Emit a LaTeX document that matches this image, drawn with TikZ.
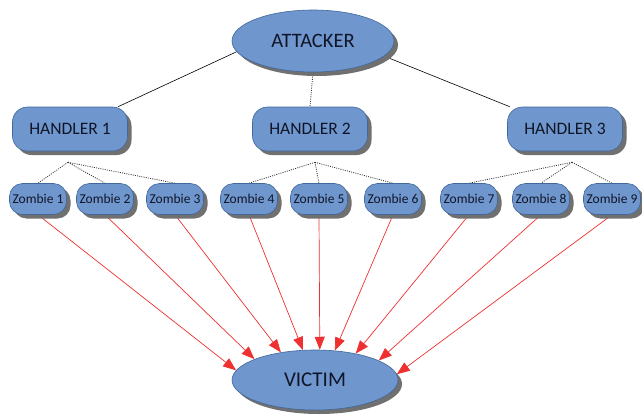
\documentclass[tikz,border=0pt]{standalone}
\usepackage{fontspec}
\setmainfont{Carlito}
\usetikzlibrary{shapes.geometric,shadows,arrows.meta,backgrounds,calc}
\definecolor{boxfill}{HTML}{6F96CD}
\definecolor{boxline}{HTML}{41689A}
\definecolor{shadowgray}{HTML}{707070}
\definecolor{txt}{HTML}{101628}
\definecolor{arrowred}{HTML}{EE3030}
\begin{document}
\begin{tikzpicture}[x=1pt,y=-1pt,
 base/.style={draw=boxline, line width=0.6pt, fill=boxfill, text=txt, inner sep=0pt,
   drop shadow={shadow xshift=4pt,shadow yshift=-4pt,fill=shadowgray,opacity=1}},
 bigoval/.style={base, ellipse, minimum width=162pt, minimum height=62pt, font=\fontsize{20.5}{24}\selectfont},
 handlerbox/.style={base, rectangle, rounded corners=15pt, minimum width=115pt, minimum height=44pt, font=\fontsize{17.5}{20}\selectfont},
 zombiebox/.style={base, rectangle, rounded corners=13pt, minimum width=57pt, minimum height=31pt, font=\fontsize{13.5}{16}\selectfont},
 solidlink/.style={draw=black, line width=0.6pt},
 dotlink/.style={draw=black!80, line width=0.8pt, dash pattern=on 1pt off 1.2pt},
 attack/.style={draw=arrowred, line width=0.7pt, -{Triangle[length=13pt,width=10pt]}}]
\useasboundingbox (0,0) rectangle (642,415);

\node[bigoval] (att) at (313,41) {ATTACKER};
\node[handlerbox] (h1) at (70,129) {HANDLER 1};
\node[handlerbox] (h2) at (310,129) {HANDLER 2};
\node[handlerbox] (h3) at (565,129) {HANDLER 3};

\node[zombiebox] (z1) at (38,199) {Zombie 1};
\node[zombiebox] (z2) at (105,199) {Zombie 2};
\node[zombiebox] (z3) at (175,199) {Zombie 3};
\node[zombiebox] (z4) at (249,199) {Zombie 4};
\node[zombiebox] (z5) at (319,199) {Zombie 5};
\node[zombiebox] (z6) at (393,199) {Zombie 6};
\node[zombiebox] (z7) at (469,199) {Zombie 7};
\node[zombiebox] (z8) at (541,199) {Zombie 8};
\node[zombiebox] (z9) at (612,199) {Zombie 9};

\node[bigoval, minimum width=166pt, minimum height=60pt, font=\fontsize{21}{24}\selectfont] (vic) at (315,380) {VICTIM};

\coordinate (hub1) at ($(h1.south)+(-2,11)$);
\coordinate (hub2) at ($(h2.south)+(5,11)$);
\coordinate (hub3) at ($(h3.south)+(7,11)$);

\begin{scope}[on background layer]
\draw[solidlink] (att.188) -- (h1);
\draw[solidlink] (att.348) -- (h3);
\draw[dotlink] (att.south) -- (h2.north);

\draw[dotlink] (hub1) -- (z1.north);
\draw[dotlink] (hub1) -- (z2.north);
\draw[dotlink] (hub1) -- (z3.north);
\draw[dotlink] (hub2) -- (z4.north);
\draw[dotlink] (hub2) -- (z5.north);
\draw[dotlink] (hub2) -- (z6.north);
\draw[dotlink] (hub3) -- (z7.north);
\draw[dotlink] (hub3) -- (z8.north);
\draw[dotlink] (hub3) -- (z9.north);

\draw[attack] (z1.south) -- (vic.173);
\draw[attack] (z2.south) -- (vic.161);
\draw[attack] (z3.south) -- (vic.141);
\draw[attack] (z4.south) -- (vic.112);
\draw[attack] (z5.south) -- (vic.81);
\draw[attack] (z6.south) -- (vic.56);
\draw[attack] (z7.south) -- (vic.33);
\draw[attack] (z8.south) -- (vic.17);
\draw[attack] (z9.south) -- (vic.4);
\end{scope}
\end{tikzpicture}
\end{document}
